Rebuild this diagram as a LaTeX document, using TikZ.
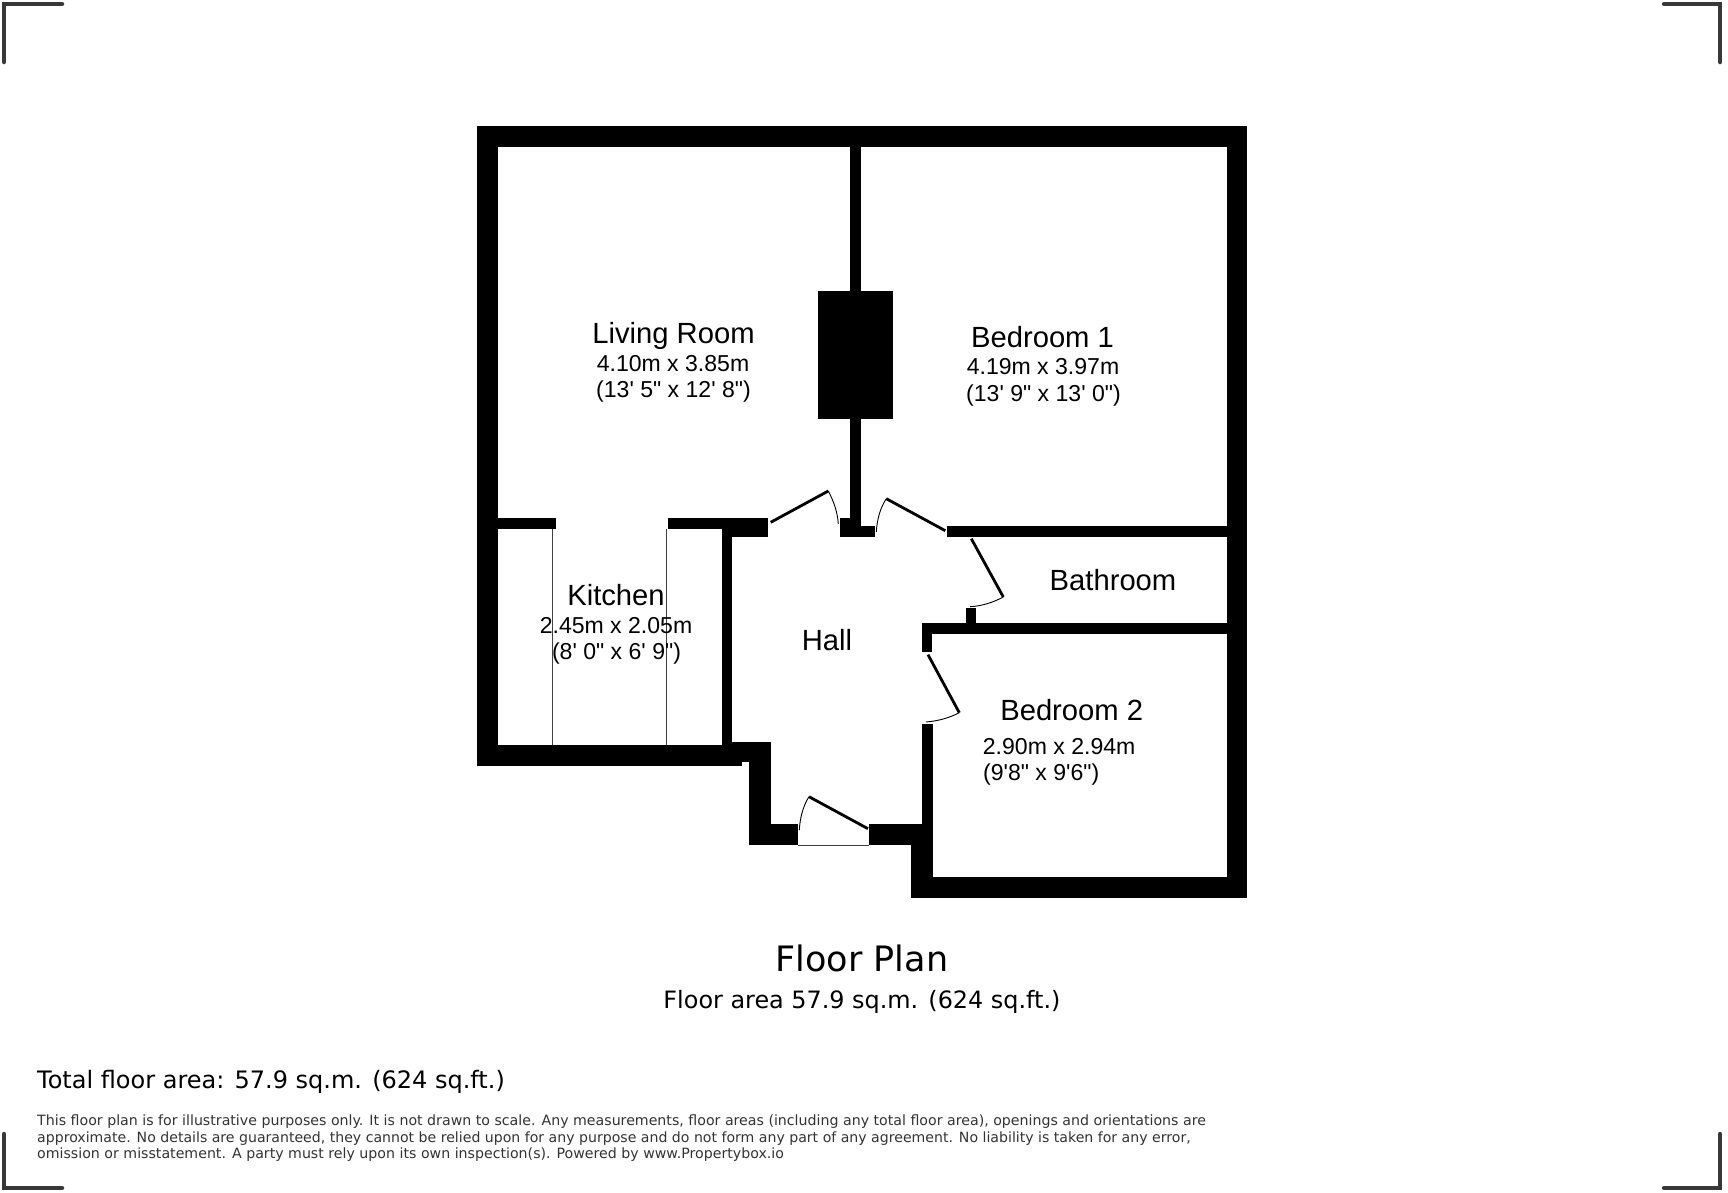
\documentclass[tikz,border=0pt]{standalone}
\usepackage{fontspec}
\setmainfont{Liberation Sans}
\newfontfamily\arl{Liberation Sans}
\newfontfamily\verd{DejaVu Sans}
\tikzset{
  x=1pt,y=-1pt,
  wall/.style={fill=black,draw=none},
  leaf/.style={draw=black,line width=2.8pt},
  swing/.style={draw=black,line width=0.9pt},
  thin/.style={draw=black!75,line width=1pt},
  crop/.style={draw=black!78,line width=4.5pt,line cap=round,line join=miter},
  roomname/.style={font=\arl\fontsize{29.2}{29.2}\selectfont,inner sep=0pt,anchor=base},
  roomdim/.style={font=\arl\fontsize{23.05}{23.05}\selectfont,inner sep=0pt,anchor=base},
  roomleft/.style={font=\arl\fontsize{23.05}{23.05}\selectfont,inner sep=0pt,anchor=base west},
  title/.style={font=\verd\fontsize{35}{35}\selectfont,inner sep=0pt,anchor=base},
  sub/.style={font=\verd\fontsize{23.9}{23.9}\selectfont,inner sep=0pt,anchor=base},
  total/.style={font=\verd\fontsize{24}{24}\selectfont,inner sep=0pt,anchor=base west},
  legal/.style={font=\verd\fontsize{14.17}{14.17}\selectfont,inner sep=0pt,anchor=base west,text=black!80},
  legaltight/.style={legal,font=\verd\fontsize{14.1}{14.1}\selectfont}
}
\begin{document}
\begin{tikzpicture}
\useasboundingbox (0,0) rectangle (1728,1192);
% crop marks
\draw[crop] (4,62) -- (4,4) -- (62,4);
\draw[crop] (1664,4) -- (1720,4) -- (1720,62);
\draw[crop] (4,1134) -- (4,1188) -- (62,1188);
\draw[crop] (1664,1188) -- (1720,1188) -- (1720,1134);
% outer walls
\fill[wall] (476.5,126) rectangle (1247.3,147);
\fill[wall] (476.5,126) rectangle (498,766);
\fill[wall] (1226.7,126) rectangle (1247.3,897.7);
\fill[wall] (476.5,745) rectangle (742,766);
\fill[wall] (911,876.7) rectangle (1247.3,897.7);
\fill[wall] (911,845.3) rectangle (932.5,897.7);
\fill[wall] (749.3,742.3) rectangle (770.7,845.3);
\fill[wall] (732,742.3) rectangle (770.7,762);
\fill[wall] (749.3,824.3) rectangle (798,845.3);
\fill[wall] (869.3,824.3) rectangle (932.5,845.3);
\draw[thin] (798,845) -- (869.3,845);
% interior walls
\fill[wall] (498,518.3) rectangle (555.7,529);
\fill[wall] (668,518.3) rectangle (768.3,529);
\fill[wall] (721.7,518.3) rectangle (768.3,537.3);
\fill[wall] (721.7,518.3) rectangle (732,745);
\fill[wall] (849.8,147) rectangle (860.5,537.3);
\fill[wall] (840,518.3) rectangle (860.5,537.3);
\fill[wall] (840,526) rectangle (875.3,537.3);
\fill[wall] (818,290.7) rectangle (892.5,418.5);
\fill[wall] (946.7,526) rectangle (1226.7,537.3);
\fill[wall] (921.7,623.3) rectangle (1226.7,634);
\fill[wall] (921.7,623.3) rectangle (932.3,651.7);
\fill[wall] (965.5,608.3) rectangle (976.3,623.3);
\fill[wall] (921.7,724) rectangle (932.5,830);
% kitchen thin lines
\draw[thin] (552.3,529) -- (552.3,745);
\draw[thin] (666.5,529) -- (666.5,745);
% doors
\draw[leaf] (770.7,522.3) -- (828.3,491);
\draw[swing] (828.3,491) .. controls (834,502) and (837.5,512) .. (838.3,524);
\draw[leaf] (945.3,530.7) -- (886.3,498.7);
\draw[swing] (886.3,498.7) .. controls (880,508) and (877,520) .. (876.3,532);
\draw[leaf] (971.3,538.7) -- (1003.3,597);
\draw[swing] (1003.3,597) .. controls (993,602.5) and (982,606) .. (970,606.7);
\draw[leaf] (928,654.7) -- (959.3,712.7);
\draw[swing] (959.3,712.7) .. controls (949,718) and (938,721) .. (926,722);
\draw[leaf] (868,828.7) -- (809,796.7);
\draw[swing] (809,796.7) .. controls (803,806) and (800,818) .. (799.3,830);
% labels
\node[roomname] (lrn) at (673.5,343) {Living Room};
\node[roomdim] (lrd) at (673,371) {4.10m x 3.85m};
\node[roomdim] (lri) at (673.5,397.5) {(13' 5" x 12' 8")};
\node[roomname] (b1n) at (1042.5,347) {Bedroom 1};
\node[roomdim] (b1d) at (1043,374.5) {4.19m x 3.97m};
\node[roomdim] (b1i) at (1043.5,401) {(13' 9" x 13' 0")};
\node[roomname] (kn) at (616,605.5) {Kitchen};
\node[roomdim] (kd) at (616,633.5) {2.45m x 2.05m};
\node[roomdim] (ki) at (616.5,659.5) {(8' 0" x 6' 9")};
\node[roomname] (hn) at (827,650.5) {Hall};
\node[roomname] (bn) at (1113,590) {Bathroom};
\node[roomname] (b2n) at (1071.7,720.5) {Bedroom 2};
\node[roomleft] (b2d) at (982.7,754) {2.90m x 2.94m};
\node[roomleft] (b2i) at (983,780) {(9'8" x 9'6")};
\node[title] (ttl) at (862,971.5) {Floor Plan};
\node[sub] (fa) at (862,1008) {Floor area 57.9 sq.m. (624 sq.ft.)};
\node[total] (tot) at (37,1088) {Total floor area: 57.9 sq.m. (624 sq.ft.)};
\node[legal] (l1) at (37,1125.2) {This floor plan is for illustrative purposes only. It is not drawn to scale. Any measurements, floor areas (including any total floor area), openings and orientations are};
\node[legaltight] (l2) at (37,1142) {approximate. No details are guaranteed, they cannot be relied upon for any purpose and do not form any part of any agreement. No liability is taken for any error,};
\node[legal] (l3) at (37,1158.5) {omission or misstatement. A party must rely upon its own inspection(s). Powered by www.Propertybox.io};
\end{tikzpicture}
\end{document}
